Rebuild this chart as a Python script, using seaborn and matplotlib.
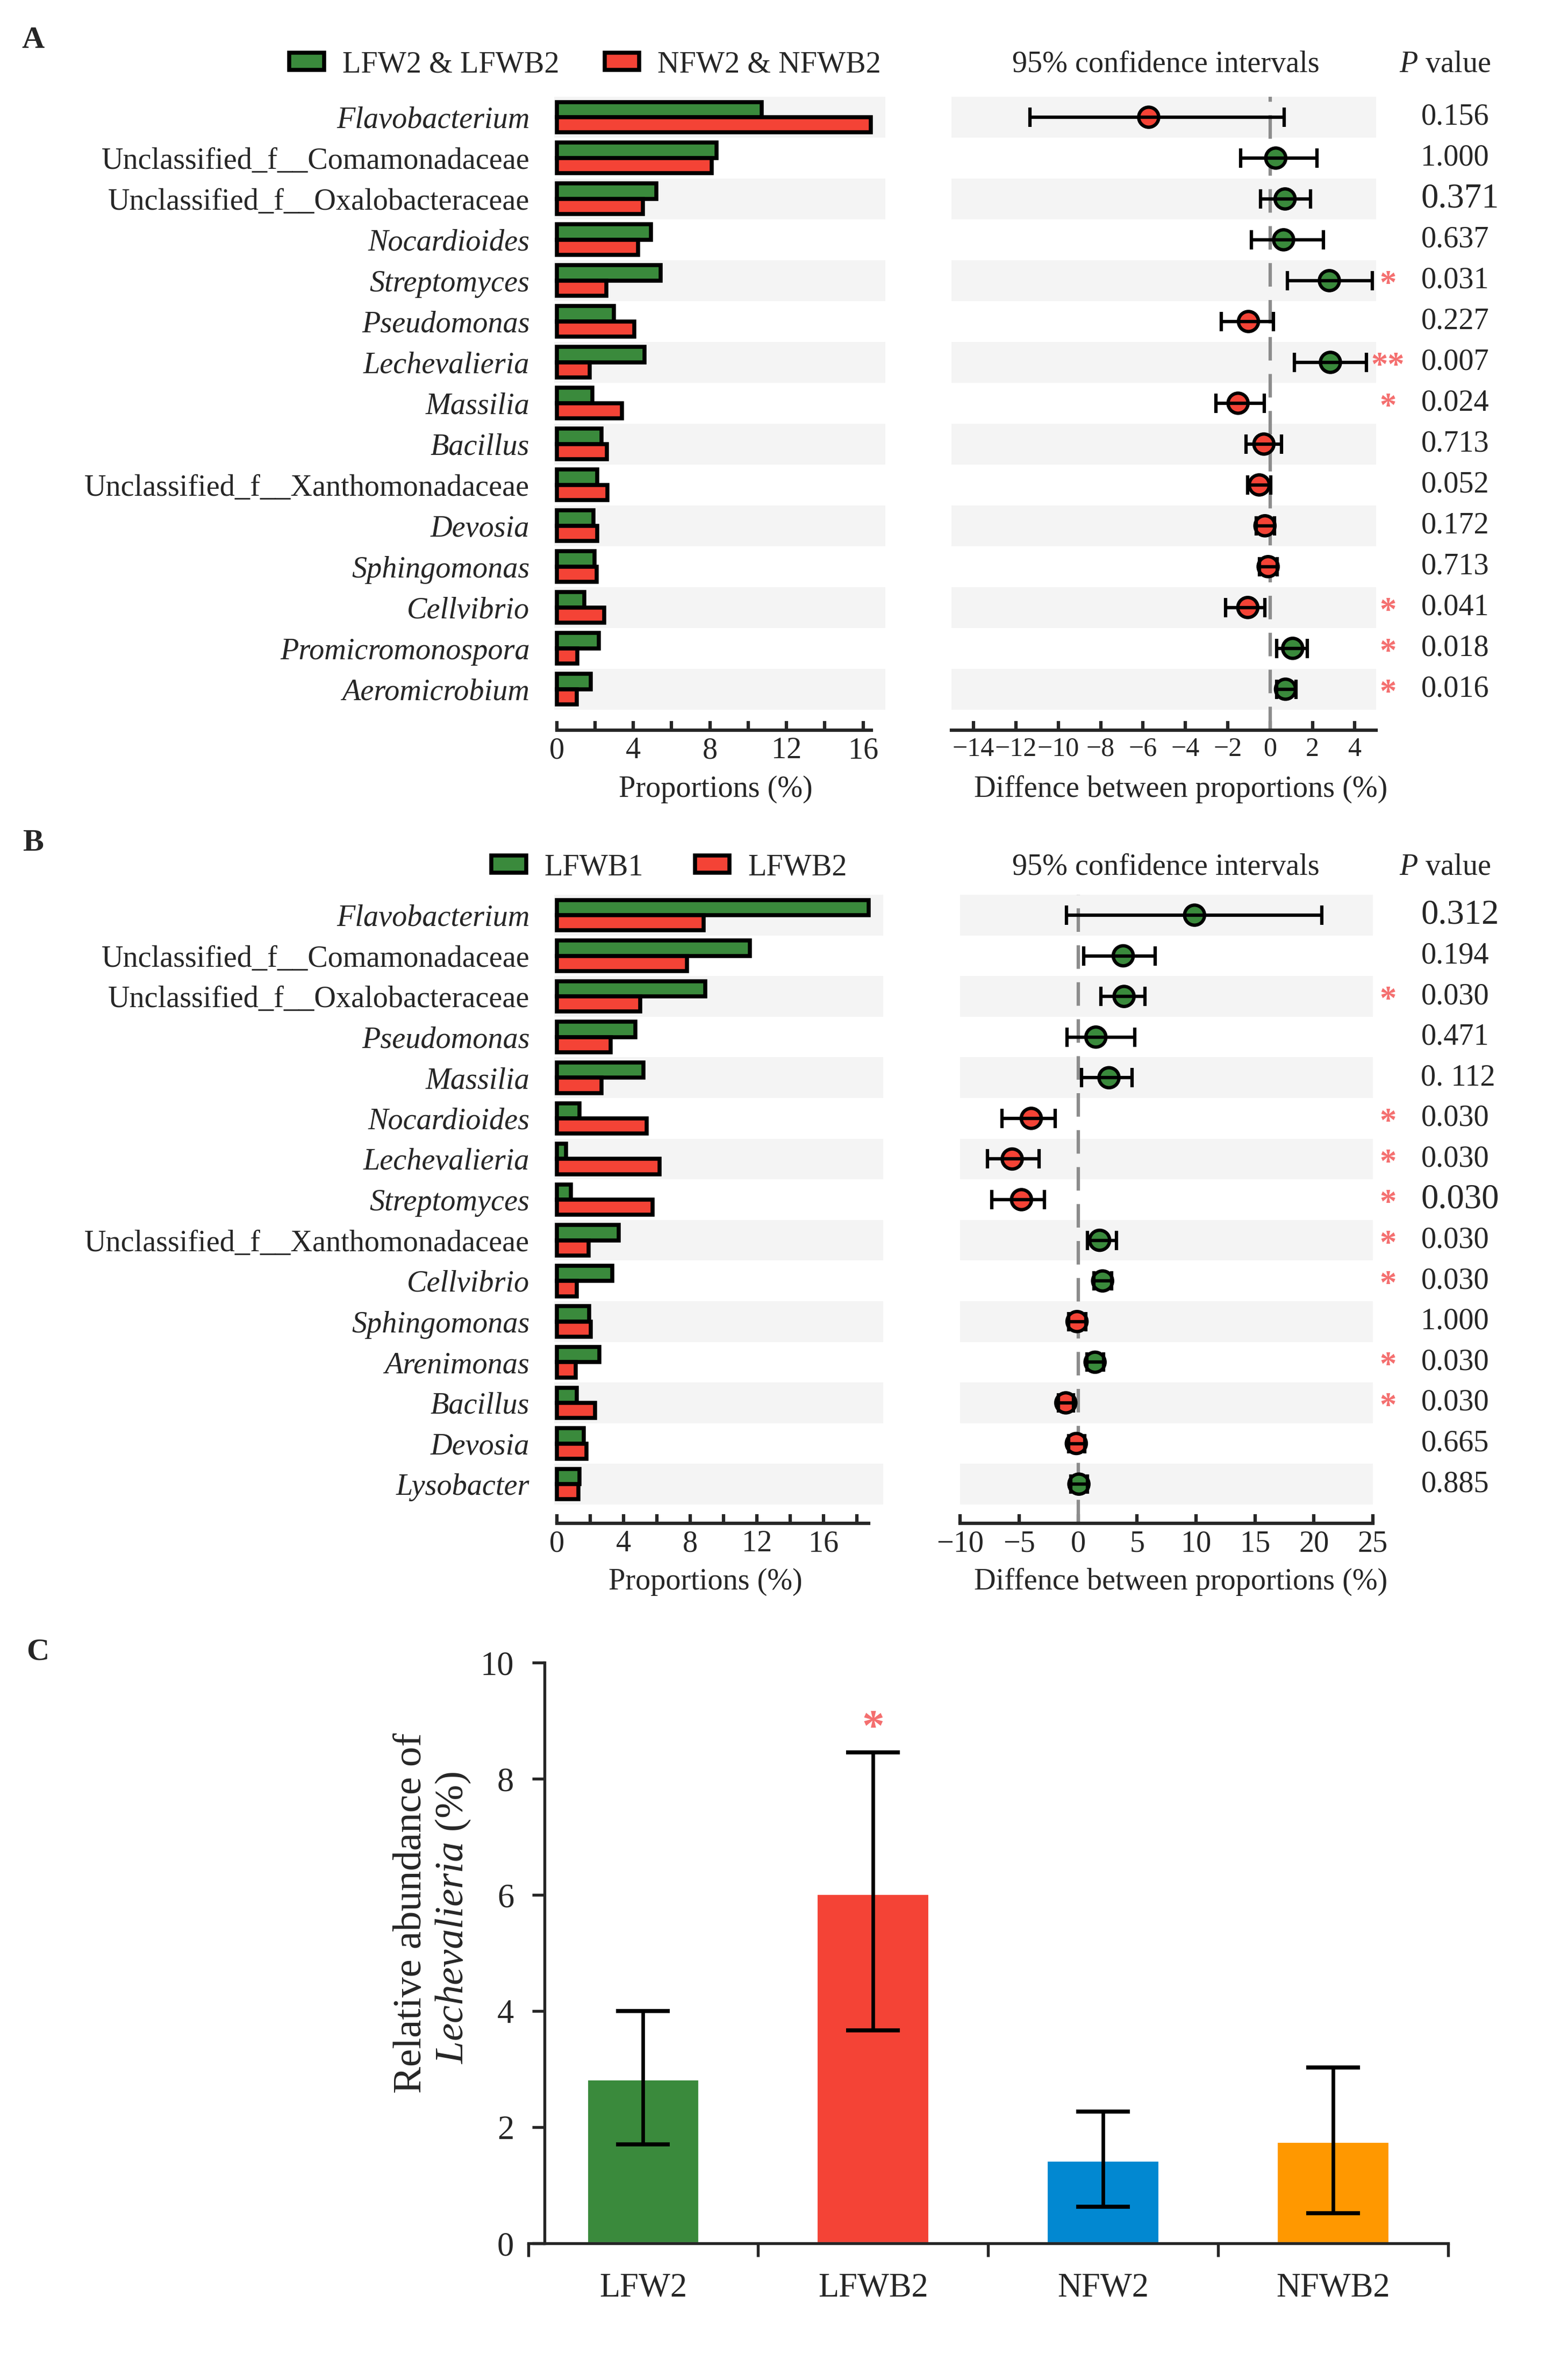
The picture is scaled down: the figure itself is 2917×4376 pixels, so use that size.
import numpy as np
import pandas as pd
import seaborn as sns
import matplotlib.pyplot as plt
import matplotlib.transforms as mtransforms
from matplotlib.patches import Patch

GREEN = '#3a8a3c'
RED = '#f44336'
BLUE = '#0288d1'
ORANGE = '#ff9800'
STRIPE = '#f4f4f4'
STAR = '#f46f6f'

# ---- panel A data ----
taxa_a = ['Flavobacterium', 'Unclassified_f__Comamonadaceae', 'Unclassified_f__Oxalobacteraceae',
          'Nocardioides', 'Streptomyces', 'Pseudomonas', 'Lechevalieria', 'Massilia', 'Bacillus',
          'Unclassified_f__Xanthomonadaceae', 'Devosia', 'Sphingomonas', 'Cellvibrio',
          'Promicromonospora', 'Aeromicrobium']
lfw_a = [10.7, 8.34, 5.2, 4.92, 5.44, 2.98, 4.59, 1.87, 2.35, 2.12, 1.93, 1.97, 1.43, 2.2, 1.78]
nfw_a = [16.4, 8.09, 4.49, 4.24, 2.6, 4.05, 1.72, 3.42, 2.62, 2.65, 2.12, 2.09, 2.47, 1.09, 1.05]
diff_a = [-5.73, 0.27, 0.71, 0.64, 2.8, -1.02, 2.85, -1.51, -0.29, -0.51, -0.24, -0.09, -1.05, 1.07, 0.73]
low_a = [-11.33, -1.4, -0.45, -0.87, 0.82, -2.31, 1.16, -2.55, -1.13, -1.05, -0.65, -0.51, -2.09, 0.31, 0.31]
high_a = [0.67, 2.22, 1.91, 2.53, 4.82, 0.16, 4.55, -0.27, 0.55, 0.04, 0.22, 0.35, -0.24, 1.76, 1.22]
pval_a = ['0.156', '1.000', '0.371', '0.637', '0.031', '0.227', '0.007', '0.024', '0.713',
          '0.052', '0.172', '0.713', '0.041', '0.018', '0.016']
pbig_a = [False, False, True] + [False] * 12
stars_a = ['', '', '', '', '*', '', '**', '*', '', '', '', '', '*', '*', '*']

# ---- panel B data ----
taxa_b = ['Flavobacterium', 'Unclassified_f__Comamonadaceae', 'Unclassified_f__Oxalobacteraceae',
          'Pseudomonas', 'Massilia', 'Nocardioides', 'Lechevalieria', 'Streptomyces',
          'Unclassified_f__Xanthomonadaceae', 'Cellvibrio', 'Sphingomonas', 'Arenimonas',
          'Bacillus', 'Devosia', 'Lysobacter']
lfwb1_b = [18.7, 11.58, 8.89, 4.72, 5.21, 1.38, 0.55, 0.86, 3.71, 3.34, 1.96, 2.56, 1.22, 1.61, 1.38]
lfwb2_b = [8.8, 7.8, 5.0, 3.22, 2.68, 5.38, 6.17, 5.74, 1.9, 1.21, 2.04, 1.14, 2.29, 1.8, 1.29]
diff_b = [9.87, 3.82, 3.89, 1.5, 2.61, -3.98, -5.6, -4.81, 1.82, 2.07, -0.1, 1.43, -1.05, -0.16, 0.06]
low_b = [-0.99, 0.45, 1.91, -0.96, 0.29, -6.46, -7.68, -7.32, 0.8, 1.34, -0.8, 0.76, -1.69, -0.8, -0.64]
high_b = [20.67, 6.53, 5.67, 4.78, 4.59, -1.97, -3.34, -2.87, 3.25, 2.83, 0.64, 2.13, -0.41, 0.54, 0.8]
pval_b = ['0.312', '0.194', '0.030', '0.471', '0. 112', '0.030', '0.030', '0.030', '0.030',
          '0.030', '1.000', '0.030', '0.030', '0.665', '0.885']
pbig_b = [True] + [False] * 6 + [True] + [False] * 7
stars_b = ['', '', '*', '', '', '*', '*', '*', '*', '*', '', '*', '*', '', '']

# ---- panel C data ----
groups_c = ['LFW2', 'LFWB2', 'NFW2', 'NFWB2']
mean_c = [2.83, 6.02, 1.43, 1.75]
low_c = [1.71, 3.67, 0.63, 0.52]
high_c = [4.0, 8.46, 2.27, 3.03]

sns.set_style('white')
plt.rcParams['font.family'] = ['Liberation Serif', 'DejaVu Serif']
plt.rcParams['mathtext.fontset'] = 'custom'
plt.rcParams['mathtext.rm'] = 'Liberation Serif'
plt.rcParams['mathtext.it'] = 'Liberation Serif:italic'
FS = 13.5

fig = plt.figure(figsize=(2917 / 300, 4376 / 300), dpi=300)


def fx(x):
    return x / 1045


def fy(y):
    return 1 - y / 1568


def rect(x0, x1, y0, y1):
    return [fx(x0), fy(y1), fx(x1) - fx(x0), fy(y0) - fy(y1)]


def stripes(ax, n):
    for i in range(0, n, 2):
        ax.axhspan(i - 0.5, i + 0.5, color=STRIPE, lw=0, zorder=0)


def bar_panel(ax, taxa, v1, v2, names, xlim, spine_end, major, minor, ybottom):
    df = pd.DataFrame({'taxon': taxa * 2, 'value': v1 + v2,
                       'group': [names[0]] * len(taxa) + [names[1]] * len(taxa)})
    sns.barplot(data=df, x='value', y='taxon', hue='group', order=taxa, hue_order=names,
                palette=[GREEN, RED], saturation=1, width=0.75, edgecolor='black',
                linewidth=1.8, orient='h', legend=False, ax=ax)
    stripes(ax, len(taxa))
    ax.set_ylim(ybottom, -0.5)
    ax.set_xlim(*xlim)
    for s in ['top', 'right', 'left']:
        ax.spines[s].set_visible(False)
    ax.spines['bottom'].set_bounds(0, spine_end)
    ax.spines['bottom'].set_linewidth(1.5)
    ax.set_xticks(major)
    ax.set_xticks(minor, minor=True)
    ax.tick_params(axis='x', which='both', direction='in', length=4, width=1.5,
                   labelsize=FS, pad=3, bottom=True)
    ax.tick_params(axis='y', length=0, pad=11, labelsize=FS)
    ax.set_xlabel('')
    ax.set_ylabel('')
    for t in ax.get_yticklabels():
        if not t.get_text().startswith('Unclassified'):
            t.set_fontstyle('italic')


def ci_panel(ax, diff, low, high, xlim, ticks, pvals, pbig, stars, ybottom, tick_fs):
    n = len(diff)
    rows = np.arange(n)
    stripes(ax, n)
    ax.axvline(0, color='#8c8c8c', ls=(0, (7, 4)), lw=1.5, zorder=1)
    sign = ['up' if d > 0 else 'down' for d in diff]
    sns.scatterplot(x=diff, y=rows, hue=sign, palette={'up': GREEN, 'down': RED}, s=80,
                    edgecolor='black', linewidth=1.5, legend=False, ax=ax, zorder=3)
    d = np.array(diff)
    ax.errorbar(d, rows, xerr=[d - np.array(low), np.array(high) - d], fmt='none',
                ecolor='black', elinewidth=1.5, capsize=4.3, capthick=1.5, zorder=4)
    ax.set_ylim(ybottom, -0.5)
    ax.set_xlim(*xlim)
    for s in ['top', 'right', 'left']:
        ax.spines[s].set_visible(False)
    ax.spines['bottom'].set_linewidth(1.5)
    ax.set_xticks(ticks)
    ax.tick_params(axis='x', direction='in', length=4, width=1.5, labelsize=tick_fs, pad=3,
                   bottom=True)
    ax.set_yticks([])
    ax.set_xlabel('')
    ax.set_ylabel('')
    trans = mtransforms.blended_transform_factory(fig.transFigure, ax.transData)
    for i in range(n):
        ax.text(fx(947), i, pvals[i], transform=trans, ha='left', va='center',
                fontsize=15.5 if pbig[i] else FS, clip_on=False)
        if stars[i]:
            ax.text(fx(925), i + 0.12, stars[i], transform=trans, ha='center', va='center',
                    fontsize=15, fontweight='bold', color=STAR, clip_on=False)


def header(y, legend_x, names, colspace):
    handles = [Patch(facecolor=GREEN, edgecolor='black', lw=1.8),
               Patch(facecolor=RED, edgecolor='black', lw=1.8)]
    fig.legend(handles, names, loc='center', bbox_to_anchor=(fx(legend_x), fy(y)), ncol=2,
               frameon=False, fontsize=FS, handlelength=1.15, handleheight=0.5,
               handletextpad=0.6, columnspacing=colspace, borderaxespad=0, borderpad=0)
    fig.text(fx(777), fy(y), '95% confidence intervals', ha='center', va='center', fontsize=FS)
    fig.text(fx(963), fy(y), r'$\it{P}$ value', ha='center', va='center', fontsize=FS)


# ---- panel A ----
ax_a = fig.add_axes(rect(369.4, 590, 64.5, 486.5))
bar_panel(ax_a, taxa_a, lfw_a, nfw_a, ['LFW2 & LFWB2', 'NFW2 & NFWB2'], (-0.126, 17.16), 16.44,
          [0, 4, 8, 12, 16], [2, 6, 10, 14], 15.0)
ax_a_ci = fig.add_axes(rect(634, 917, 64.5, 486.5))
ci_panel(ax_a_ci, diff_a, low_a, high_a, (-15.05, 5.0), np.arange(-14, 5, 2), pval_a, pbig_a,
         stars_a, 15.0, 12)
header(43, 390, ['LFW2 & LFWB2', 'NFW2 & NFWB2'], 1.5)
fig.text(fx(477), fy(526), 'Proportions (%)', ha='center', va='center', fontsize=FS)
fig.text(fx(787), fy(526), 'Diffence between proportions (%)', ha='center', va='center', fontsize=FS)

# ---- panel B ----
ax_b = fig.add_axes(rect(369.4, 588.6, 596.3, 1015))
bar_panel(ax_b, taxa_b, lfwb1_b, lfwb2_b, ['LFWB1', 'LFWB2'], (-0.144, 19.57), 18.7,
          [0, 4, 8, 12, 16], [2, 6, 10, 14, 18], 14.96)
ax_b_ci = fig.add_axes(rect(640, 915, 596.3, 1015))
ci_panel(ax_b_ci, diff_b, low_b, high_b, (-10, 25), np.arange(-10, 26, 5), pval_b, pbig_b,
         stars_b, 14.96, FS)
header(578, 446, ['LFWB1', 'LFWB2'], 1.7)
fig.text(fx(470), fy(1054), 'Proportions (%)', ha='center', va='center', fontsize=FS)
fig.text(fx(787), fy(1054), 'Diffence between proportions (%)', ha='center', va='center', fontsize=FS)

# ---- panel C ----
ax_c = fig.add_axes(rect(352, 965, 1108, 1495))
sns.barplot(x=groups_c, y=mean_c, hue=groups_c, palette=[GREEN, RED, BLUE, ORANGE],
            saturation=1, width=0.49, legend=False, ax=ax_c)
m = np.array(mean_c)
ax_c.errorbar(np.arange(4), m, yerr=[m - np.array(low_c), np.array(high_c) - m], fmt='none',
              ecolor='black', elinewidth=1.6, capsize=12, capthick=1.8, zorder=4)
ax_c.set_xlim(-0.5, 3.5)
ax_c.set_ylim(0, 10)
ax_c.spines['top'].set_visible(False)
ax_c.spines['right'].set_visible(False)
ax_c.spines['left'].set_position(('data', -0.43))
ax_c.spines['left'].set_linewidth(1.3)
ax_c.spines['bottom'].set_linewidth(1.3)
ax_c.set_xticks([-0.5, 0.5, 1.5, 2.5, 3.5])
ax_c.set_xticklabels([])
ax_c.set_xticks(range(4), minor=True)
ax_c.set_xticklabels(groups_c, minor=True)
ax_c.tick_params(axis='x', which='major', direction='out', length=6, width=1.3, bottom=True)
ax_c.tick_params(axis='x', which='minor', length=0, pad=13, labelsize=15, bottom=True)
ax_c.set_yticks(range(0, 11, 2))
ax_c.tick_params(axis='y', direction='out', length=5.5, width=1.3, pad=8, labelsize=15, left=True)
ax_c.set_xlabel('')
ax_c.set_ylabel('')
ax_c.text(1, 8.85, '*', color=STAR, fontsize=20, fontweight='bold', ha='center', va='center')
fig.text(fx(274), fy(1275), 'Relative abundance of', rotation=90, ha='center', va='center', fontsize=18)
fig.text(fx(302), fy(1278), r'$\it{Lechevalieria}$ (%)', rotation=90, ha='center', va='center',
         fontsize=18)

# panel letters
for lab, x, y in [('A', 22, 27), ('B', 22, 562), ('C', 25, 1101)]:
    fig.text(fx(x), fy(y), lab, ha='center', va='center', fontsize=14, fontweight='bold')

fig.savefig('out.png', dpi=300)
